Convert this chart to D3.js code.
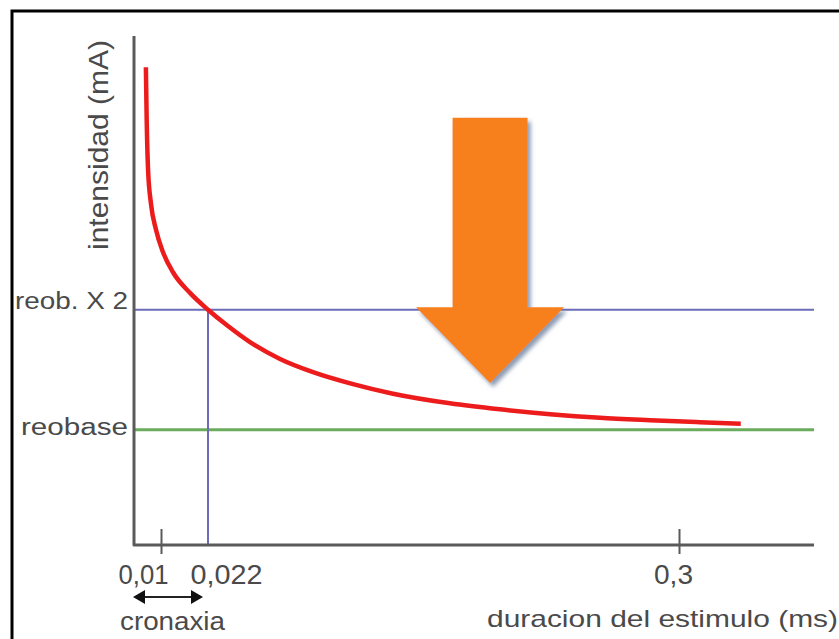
<!DOCTYPE html>
<html><head><meta charset="utf-8">
<script src="https://cdn.jsdelivr.net/npm/d3@7"></script>
<style>
body{margin:0;background:#fff;}
svg{display:block;}
text{font-family:"Liberation Sans",Arial,sans-serif;fill:#4a4a4a;}
</style>
</head><body>
<svg id="c" width="839" height="639"></svg>
<script>
// ---- data ----
const duration  = [0.0044,0.0047,0.0052,0.0063,0.0081,0.0105,0.0131,0.0174,0.022,0.0332,0.0468,0.0645,0.084,0.1076,0.1312,0.1648,0.1943,0.2239,0.2534,0.2829,0.3124,0.3366];
const intensity = [4.02,3.58,3.17,2.88,2.67,2.48,2.31,2.14,2.00,1.87,1.73,1.59,1.48,1.38,1.30,1.22,1.17,1.13,1.10,1.08,1.063,1.05];
const xTickValues = [0.01, 0.022, 0.3];
const xTickLabels = ["0,01", "0,022", "0,3"];
const levelValues = [2, 1];
const levelLabels = ["reob. X 2", "reobase"];
const cronaxia = 0.022;
const arrowDuration = 0.1885;      // centre of the big arrow
const arrowIntensity = [3.6, 2.02, 1.39]; // shaft top, head base, tip

// ---- layout ----
const svg = d3.select("#c");
const x = d3.scaleLinear().domain([0, 0.01, 0.022, 0.3, 0.38]).range([134, 161, 208, 679, 814]);
const y = d3.scaleLinear().domain([0.04, 4.28]).range([545, 36]);
const axisColor = "#5a5a5a";

// frame (left and top edges visible)
svg.append("rect").attr("x", 12).attr("y", 11).attr("width", 900).attr("height", 700)
  .attr("fill", "none").attr("stroke", "#000").attr("stroke-width", 3);

// drop shadow filter
const defs = svg.append("defs");
const f = defs.append("filter").attr("id", "sh").attr("x", "-20%").attr("y", "-20%").attr("width", "150%").attr("height", "150%");
f.append("feDropShadow").attr("dx", 3).attr("dy", 4).attr("stdDeviation", 2.2)
  .attr("flood-color", "#6f82a0").attr("flood-opacity", 0.8);

// reference lines
const levelColors = ["#6b6bb8", "#6aab5c"];
const levelWidths = [2, 3];
svg.selectAll(".lvl").data(levelValues).join("line").attr("class", "lvl")
  .attr("x1", x(0)).attr("x2", x(0.38))
  .attr("y1", d => y(d)).attr("y2", d => y(d))
  .attr("stroke", (d, i) => levelColors[i]).attr("stroke-width", (d, i) => levelWidths[i]);

svg.append("line").attr("x1", x(cronaxia)).attr("x2", x(cronaxia))
  .attr("y1", y(2)).attr("y2", y(0.04))
  .attr("stroke", "#6b6bb8").attr("stroke-width", 2);

// level labels
svg.selectAll(".lvlLab").data(levelValues).join("text").attr("class", "lvlLab")
  .attr("x", 128).attr("y", (d, i) => y(d) + [-1, 5][i])
  .attr("text-anchor", "end")
  .attr("font-size", 23)
  .attr("textLength", (d, i) => [113, 107][i]).attr("lengthAdjust", "spacingAndGlyphs")
  .text((d, i) => levelLabels[i]);

// axes (L-shaped)
svg.append("path")
  .attr("d", d3.line()([[x(0), y(4.28)], [x(0), y(0.04)], [x(0.38), y(0.04)]]))
  .attr("fill", "none").attr("stroke", axisColor).attr("stroke-width", 3)
  .attr("stroke-linejoin", "round");

const xAxis = d3.axisBottom(x).tickValues(xTickValues).tickFormat((d, i) => xTickLabels[i]).tickSize(0);
const gx = svg.append("g").attr("transform", `translate(0,${y(0.04)})`).call(xAxis);
gx.select(".domain").remove();
gx.selectAll(".tick line")
  .attr("y1", -16).attr("y2", 9)
  .attr("stroke", axisColor).attr("stroke-width", 2)
  .attr("display", (d) => d === cronaxia ? "none" : null);
const labDx = [-18, 18, -6];
const labLen = [50, 72, 39];
gx.selectAll(".tick text")
  .attr("dy", 0).attr("y", 39).attr("dx", (d, i) => labDx[i])
  .attr("font-size", 27).attr("fill", "#4a4a4a")
  .attr("font-family", '"Liberation Sans",Arial,sans-serif')
  .attr("textLength", (d, i) => labLen[i]).attr("lengthAdjust", "spacingAndGlyphs");

// axis titles
svg.append("text")
  .attr("transform", "translate(108,145) rotate(-90)")
  .attr("text-anchor", "middle").attr("font-size", 28)
  .attr("textLength", 210).attr("lengthAdjust", "spacingAndGlyphs")
  .text("intensidad (mA)");

svg.append("text")
  .attr("x", 838).attr("y", 627).attr("text-anchor", "end")
  .attr("font-size", 24)
  .attr("textLength", 351).attr("lengthAdjust", "spacingAndGlyphs")
  .text("duracion del estimulo (ms)");

// cronaxia arrow
const ay = 597, ax0 = x(0) - 1, ax1 = x(cronaxia) - 5;
svg.append("line").attr("x1", ax0 + 8).attr("x2", ax1 - 8).attr("y1", ay).attr("y2", ay)
  .attr("stroke", "#222").attr("stroke-width", 2);
svg.append("path").attr("d", `M${ax0},${ay} l12,-7 l0,14 Z`).attr("fill", "#111");
svg.append("path").attr("d", `M${ax1},${ay} l-12,-7 l0,14 Z`).attr("fill", "#111");
svg.append("text").attr("x", 120).attr("y", 630)
  .attr("font-size", 26).attr("textLength", 105).attr("lengthAdjust", "spacingAndGlyphs")
  .text("cronaxia");

// big orange arrow (annotation, positioned in data units)
const cx = x(arrowDuration), sw = 37.5, hw = 74;
const pts = [
  [cx - sw, y(arrowIntensity[0])], [cx + sw, y(arrowIntensity[0])],
  [cx + sw, y(arrowIntensity[1])], [cx + hw, y(arrowIntensity[1])],
  [cx, y(arrowIntensity[2])],
  [cx - hw, y(arrowIntensity[1])], [cx - sw, y(arrowIntensity[1])]
];
svg.append("path").attr("d", d3.line()(pts) + "Z")
  .attr("fill", "#f8801b").attr("filter", "url(#sh)");

// strength-duration curve
const pts2 = duration.map((d, i) => [d, intensity[i]]);
svg.append("path")
  .datum(pts2)
  .attr("d", d3.line().x(d => x(d[0])).y(d => y(d[1])).curve(d3.curveMonotoneX))
  .attr("fill", "none").attr("stroke", "#ec1c1c").attr("stroke-width", 4.5)
  .attr("stroke-linecap", "butt");
</script>
</body></html>
